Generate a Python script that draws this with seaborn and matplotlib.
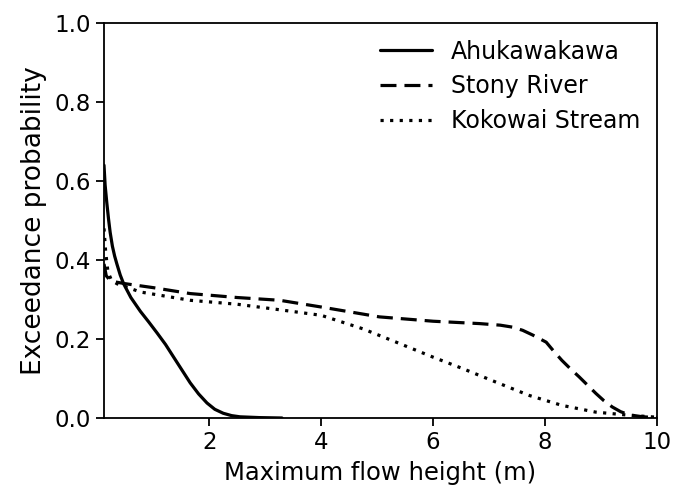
import matplotlib
matplotlib.use("Agg")
import matplotlib.pyplot as plt
import seaborn as sns
import pandas as pd

ahu_x = [0.12, 0.14, 0.17, 0.2, 0.23, 0.27, 0.31, 0.35, 0.41, 0.47, 0.6, 0.77, 0.92, 1.07, 1.22, 1.36, 1.51, 1.66, 1.81, 1.96, 2.1, 2.25, 2.4, 2.55, 2.9, 3.3]
ahu_y = [0.64, 0.59, 0.545, 0.505, 0.47, 0.435, 0.41, 0.39, 0.362, 0.34, 0.305, 0.27, 0.243, 0.215, 0.186, 0.155, 0.122, 0.089, 0.061, 0.038, 0.022, 0.012, 0.006, 0.003, 0.001, 0.0]

sto_x = [0.12, 0.16, 0.22, 0.3, 0.5, 1.0, 1.66, 2.5, 3.26, 4.0, 5.04, 6.0, 6.83, 7.2, 7.42, 7.6, 7.78, 8.02, 8.15, 8.3, 8.45, 8.61, 8.76, 8.91, 9.05, 9.2, 9.35, 9.5, 9.75, 10.0]
sto_y = [0.39, 0.36, 0.35, 0.345, 0.34, 0.33, 0.315, 0.305, 0.298, 0.281, 0.256, 0.245, 0.239, 0.235, 0.23, 0.222, 0.21, 0.192, 0.17, 0.146, 0.125, 0.104, 0.083, 0.062, 0.044, 0.028, 0.016, 0.008, 0.003, 0.001]

kok_x = [0.12, 0.15, 0.19, 0.25, 0.35, 0.77, 1.66, 2.5, 3.26, 4.0, 4.74, 5.34, 6.0, 6.53, 7.12, 7.72, 8.3, 8.9, 9.5, 10.0]
kok_y = [0.48, 0.42, 0.37, 0.35, 0.34, 0.319, 0.298, 0.288, 0.274, 0.26, 0.226, 0.192, 0.154, 0.125, 0.091, 0.057, 0.032, 0.015, 0.007, 0.002]

names = ["Ahukawakawa", "Stony River", "Kokowai Stream"]
series = [(ahu_x, ahu_y), (sto_x, sto_y), (kok_x, kok_y)]
styles = ["-", (0, (5, 2.5)), (0, (1, 2))]

sns.set_style("ticks")
plt.rcParams['font.family'] = ['DejaVu Sans']
plt.rcParams['text.color'] = 'black'
plt.rcParams['axes.labelcolor'] = 'black'
plt.rcParams['xtick.color'] = 'black'
plt.rcParams['ytick.color'] = 'black'

fig = plt.figure(figsize=(6.73, 4.94), dpi=100)
ax = fig.add_axes([104/673, 1 - 418/494, (657-104)/673, (418-23)/494])

for name, (xs, ys), ls in zip(names, series, styles):
    df = pd.DataFrame({"x": xs, "y": ys})
    sns.lineplot(data=df, x="x", y="y", ax=ax, color="black", linewidth=2.3,
                 linestyle=ls, label=name, errorbar=None)

ax.set_xlim(0.12, 10)
ax.set_ylim(0, 1.0)
ax.set_xticks([2, 4, 6, 8, 10])
ax.set_yticks([0.0, 0.2, 0.4, 0.6, 0.8, 1.0])
ax.set_xlabel("Maximum flow height (m)", fontsize=17.5, labelpad=5)
ax.set_ylabel("Exceedance probability", fontsize=19, labelpad=5)
ax.tick_params(labelsize=16.5, length=6, width=1.3, colors="black")
for s in ax.spines.values():
    s.set_visible(True)
    s.set_color("black")
    s.set_linewidth(1.3)
leg = ax.legend(frameon=False, fontsize=17, loc="upper right", handlelength=2.2,
                handletextpad=0.8, labelspacing=0.45, borderaxespad=0.3)
fig.savefig("out.png", dpi=100)
